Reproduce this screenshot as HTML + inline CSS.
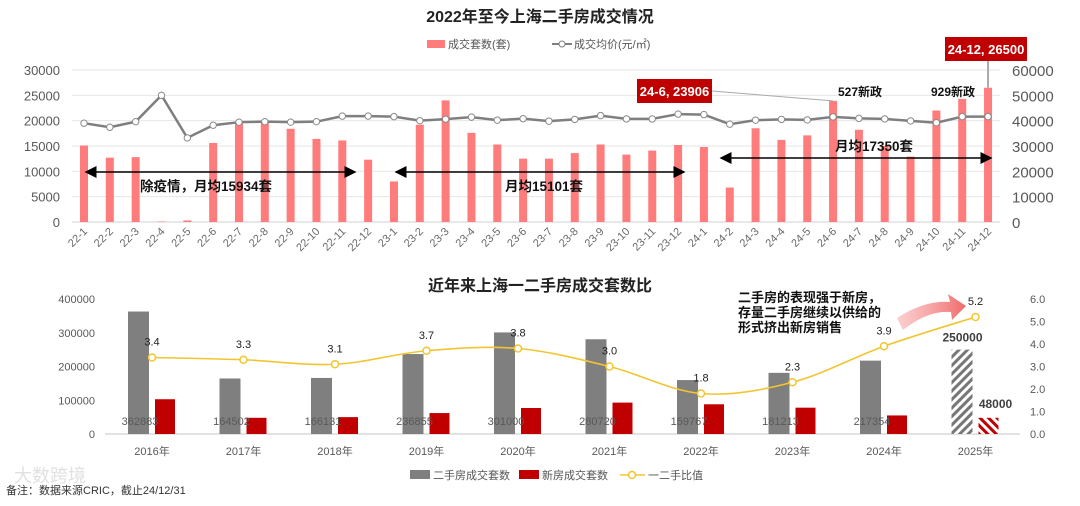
<!DOCTYPE html>
<html><head><meta charset="utf-8">
<style>
html,body{margin:0;padding:0;background:#fff;}
body{width:1080px;height:501px;overflow:hidden;font-family:"Liberation Sans","Noto Sans CJK SC",sans-serif;}
svg text{font-family:"Liberation Sans","Noto Sans CJK SC",sans-serif;}
</style></head>
<body>
<svg id="chart" width="1080" height="501" viewBox="0 0 1080 501" xmlns="http://www.w3.org/2000/svg">
<defs>
<pattern id="hatchGray" patternUnits="userSpaceOnUse" width="6" height="6" patternTransform="rotate(45)"><rect width="6" height="6" fill="#fff"/><rect width="3" height="6" fill="#777"/></pattern>
<pattern id="hatchRed" patternUnits="userSpaceOnUse" width="6" height="6" patternTransform="rotate(-45)"><rect width="6" height="6" fill="#fff"/><rect width="3" height="6" fill="#c00000"/></pattern>
<linearGradient id="pinkGrad" x1="0" y1="0" x2="1" y2="0"><stop offset="0" stop-color="#f7a0a0" stop-opacity="0.5"/><stop offset="1" stop-color="#f06b6b"/></linearGradient>
<marker id="ah" markerWidth="8" markerHeight="8" refX="7" refY="4" orient="auto-start-reverse"><path d="M0,0 L8,4 L0,8 z" fill="#000"/></marker>
</defs>
<g id="top"></g>
<g id="bottom"></g>
</svg>
<script>
// ---------- Top chart data ----------
const months = ["22-1","22-2","22-3","22-4","22-5","22-6","22-7","22-8","22-9","22-10","22-11","22-12","23-1","23-2","23-3","23-4","23-5","23-6","23-7","23-8","23-9","23-10","23-11","23-12","24-1","24-2","24-3","24-4","24-5","24-6","24-7","24-8","24-9","24-10","24-11","24-12"];
const volume = [15100,12700,12800,100,300,15600,19700,19800,18400,16400,16100,12300,8000,19200,24000,17600,15300,12500,12500,13600,15300,13300,14100,15200,14800,6800,18500,16200,17100,23906,18200,15000,12900,22000,24300,26500];
const price = [39000,37400,39600,50000,33200,38200,39400,39600,39400,39600,41800,41800,41600,40000,40600,41400,40200,40800,39800,40500,42000,40700,40700,42600,42400,38600,40200,40500,40300,41500,40900,40700,39900,39200,41600,41600];
const leftTicks = [0,5000,10000,15000,20000,25000,30000];
const rightTicks = [0,10000,20000,30000,40000,50000,60000];

// ---------- Bottom chart data ----------
const years = ["2016年","2017年","2018年","2019年","2020年","2021年","2022年","2023年","2024年","2025年"];
const secondHand = [362883,164502,166131,236855,301000,280720,159767,181213,217354,250000];
const newHomes = [103000,48000,50000,62000,77000,93000,88000,78000,55000,48000];
const ratio = [3.4,3.3,3.1,3.7,3.8,3.0,1.8,2.3,3.9,5.2];
const bLeftTicks = [0,100000,200000,300000,400000];
const bRightTicks = [0,1,2,3,4,5,6];

const NS="http://www.w3.org/2000/svg";
function mk(parent,tag,attrs,text){const e=document.createElementNS(NS,tag);for(const k in attrs)e.setAttribute(k,attrs[k]);if(text!==undefined)e.textContent=text;parent.appendChild(e);return e;}

// ===== TOP =====
const T=document.getElementById('top');
const tx=i=>84+i*25.83;
const tyL=v=>222-v*(152/30000);
const tyR=v=>222-v*(152/60000);
let e;
e=mk(T,'text',{x:540,y:22,'text-anchor':'middle','font-size':16,'font-weight':'bold',fill:'#222'},'2022年至今上海二手房成交情况');

e=mk(T,'rect',{x:427,y:40,width:18,height:8,fill:'#ff7c7c'});

e=mk(T,'text',{x:448,y:48,'font-size':11,fill:'#555'},'成交套数(套)');

mk(T,'line',{x1:552,y1:44,x2:572,y2:44,stroke:'#7f7f7f','stroke-width':2});
e=mk(T,'circle',{cx:562,cy:44,r:3,fill:'#fff',stroke:'#7f7f7f'});

e=mk(T,'text',{x:574,y:48,'font-size':11,fill:'#555'},'成交均价(元/㎡)');

leftTicks.forEach(v=>{
  e=mk(T,'line',{x1:72,x2:1000,y1:tyL(v),y2:tyL(v),stroke:v===0?'#d0d0d0':'#e6e6e6','stroke-width':1});
  
  e=mk(T,'text',{x:60,y:tyL(v)+5,'text-anchor':'end','font-size':13,fill:'#595959'},String(v));
  
});
rightTicks.forEach(v=>{
  e=mk(T,'text',{x:1012,y:tyR(v)+6,'font-size':15,fill:'#595959'},String(v));
  
});
volume.forEach((v,i)=>{
  e=mk(T,'rect',{x:tx(i)-4,y:tyL(v),width:8,height:222-tyL(v),fill:'#ff7c7c'});
  
});
months.forEach((m,i)=>{
  e=mk(T,'text',{x:tx(i)+4,y:232,'text-anchor':'end','font-size':11,fill:'#6a6a6a',transform:`rotate(-45 ${tx(i)+4} 232)`},m);
  
});
e=mk(T,'polyline',{points:price.map((v,i)=>tx(i)+','+tyR(v)).join(' '),fill:'none',stroke:'#7f7f7f','stroke-width':2.5});

price.forEach((v,i)=>{
  e=mk(T,'circle',{cx:tx(i),cy:tyR(v),r:3.2,fill:'#fff',stroke:'#8a8a8a','stroke-width':1});
  
});
[[82,359,172],[392,688,172],[717,995,158]].forEach(a=>{
  e=mk(T,'line',{x1:a[0]+4,y1:a[2],x2:a[1]-4,y2:a[2],stroke:'#000','stroke-width':1.5,'marker-start':'url(#ah)','marker-end':'url(#ah)'});
  
});
e=mk(T,'text',{x:140,y:191,'font-size':13.5,'font-weight':'bold',fill:'#111'},'除疫情，月均15934套');

e=mk(T,'text',{x:505,y:191,'font-size':13.5,'font-weight':'bold',fill:'#111'},'月均15101套');

e=mk(T,'text',{x:835,y:151,'font-size':13.5,'font-weight':'bold',fill:'#111'},'月均17350套');

const i6=months.indexOf('24-6'), i12=months.indexOf('24-12');
mk(T,'line',{x1:712,y1:91,x2:tx(i6),y2:tyL(volume[i6]),stroke:'#aaa','stroke-width':1});
e=mk(T,'rect',{x:637,y:79,width:75,height:24,fill:'#c00000'});

mk(T,'text',{x:674.5,y:96,'text-anchor':'middle','font-size':13,'font-weight':'bold',fill:'#fff'},'24-6, '+volume[i6]);
mk(T,'line',{x1:tx(i12),y1:60,x2:tx(i12),y2:tyL(volume[i12]),stroke:'#aaa','stroke-width':2});
e=mk(T,'rect',{x:945,y:37,width:82,height:24,fill:'#c00000'});

mk(T,'text',{x:986,y:54,'text-anchor':'middle','font-size':13,'font-weight':'bold',fill:'#fff'},'24-12, '+volume[i12]);
e=mk(T,'text',{x:860,y:96,'text-anchor':'middle','font-size':12,'font-weight':'bold',fill:'#111'},'527新政');

e=mk(T,'text',{x:953,y:96,'text-anchor':'middle','font-size':12,'font-weight':'bold',fill:'#111'},'929新政');


// ===== BOTTOM =====
const B=document.getElementById('bottom');
const bx=i=>152+i*91.5;
const byL=v=>434-v*(135/400000);
const byR=v=>434-v*(135/6);
e=mk(B,'text',{x:540,y:291,'text-anchor':'middle','font-size':16,'font-weight':'bold',fill:'#222'},'近年来上海一二手房成交套数比');

e=mk(B,'line',{x1:105,x2:1020,y1:434,y2:434,stroke:'#d9d9d9','stroke-width':1.5});

bLeftTicks.forEach(v=>{
  e=mk(B,'text',{x:95,y:byL(v)+4,'text-anchor':'end','font-size':11,fill:'#595959'},String(v));
  
});
bRightTicks.forEach(v=>{
  e=mk(B,'text',{x:1030,y:byR(v)+4,'font-size':11,fill:'#595959'},v.toFixed(1));
  
});
years.forEach((y,i)=>{
  const last=i===years.length-1;
  e=mk(B,'rect',{x:bx(i)-24,y:byL(secondHand[i]),width:21,height:434-byL(secondHand[i]),fill:last?'url(#hatchGray)':'#7f7f7f'});
  
  e=mk(B,'rect',{x:bx(i)+3,y:byL(newHomes[i]),width:20,height:434-byL(newHomes[i]),fill:last?'url(#hatchRed)':'#c00000'});
  
  e=mk(B,'text',{x:bx(i),y:455,'text-anchor':'middle','font-size':11,fill:'#595959'},y);
  
  if(!last){
    e=mk(B,'text',{x:bx(i)-12,y:425,'text-anchor':'middle','font-size':11,fill:'#595959'},String(secondHand[i]));
  } else {
    e=mk(B,'text',{x:bx(i)-13,y:byL(secondHand[i])-8,'text-anchor':'middle','font-size':12,'font-weight':'bold',fill:'#404040'},String(secondHand[i]));
    mk(B,'text',{x:bx(i)+20,y:byL(newHomes[i])-10,'text-anchor':'middle','font-size':12,'font-weight':'bold',fill:'#404040'},String(newHomes[i]));
  }
  
});
const pts=ratio.map((v,i)=>[bx(i),byR(v)]);
let d='M'+pts[0][0]+','+pts[0][1];
for(let i=0;i<pts.length-1;i++){
  const p0=pts[i-1]||pts[i],p1=pts[i],p2=pts[i+1],p3=pts[i+2]||p2;
  const c1=[p1[0]+(p2[0]-p0[0])/6,p1[1]+(p2[1]-p0[1])/6];
  const c2=[p2[0]-(p3[0]-p1[0])/6,p2[1]-(p3[1]-p1[1])/6];
  d+=` C${c1[0]},${c1[1]} ${c2[0]},${c2[1]} ${p2[0]},${p2[1]}`;
}
e=mk(B,'path',{d:d,fill:'none',stroke:'#f2c530','stroke-width':1.6});

ratio.forEach((v,i)=>{
  e=mk(B,'circle',{cx:bx(i),cy:byR(v),r:3.5,fill:'#fff',stroke:'#f2c530','stroke-width':1.5});
  
  e=mk(B,'text',{x:bx(i),y:byR(v)-12,'text-anchor':'middle','font-size':11,fill:'#222'},v.toFixed(1));
  
});
e=mk(B,'text',{x:738,y:302,'font-size':13,'font-weight':'bold',fill:'#111'});

['二手房的表现强于新房，','存量二手房继续以供给的','形式挤出新房销售'].forEach((t,k)=>mk(e,'tspan',{x:738,dy:k?15:0},t));
e=mk(B,'path',{d:'M897,318 Q925,300 950,302 L948,294 L966,306 L952,320 L951,312 Q928,310 903,330 Z',fill:'url(#pinkGrad)'});

e=mk(B,'rect',{x:410,y:470,width:20,height:9,fill:'#7f7f7f'});

e=mk(B,'text',{x:433,y:479,'font-size':11,fill:'#555'},'二手房成交套数');

e=mk(B,'rect',{x:519,y:470,width:20,height:9,fill:'#c00000'});

e=mk(B,'text',{x:542,y:479,'font-size':11,fill:'#555'},'新房成交套数');

mk(B,'line',{x1:620,y1:475,x2:645,y2:475,stroke:'#f2c530','stroke-width':1.5});
mk(B,'circle',{cx:632,cy:475,r:3.5,fill:'#fff',stroke:'#f2c530','stroke-width':1.5});
e=mk(B,'text',{x:648,y:479,'font-size':11,fill:'#555'},'一二手比值');

e=mk(B,'text',{x:14,y:482,'font-size':18,fill:'#ccc',opacity:0.6},'大数跨境');

e=mk(B,'text',{x:6,y:494,'font-size':11,fill:'#333'},'备注：数据来源CRIC，截止24/12/31');

</script>
</body></html>
